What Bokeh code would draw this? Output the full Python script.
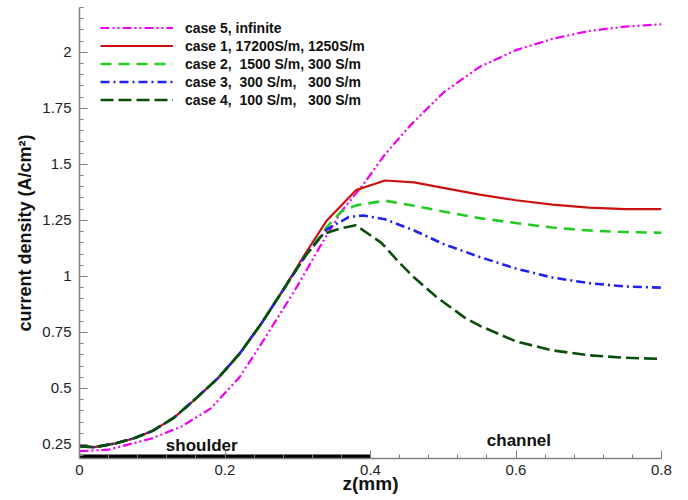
from bokeh.plotting import figure
from bokeh.models import (Range1d, FixedTicker, CustomJSTickFormatter, Legend, LegendItem)
from bokeh.core.properties import value
from bokeh.embed import file_html
from bokeh.resources import INLINE

# ---- data ----
x_case5 = [0.0, 0.04, 0.10, 0.14, 0.18, 0.22, 0.25, 0.28, 0.30, 0.33, 0.36, 0.39, 0.42, 0.455, 0.50, 0.55, 0.60, 0.65, 0.70, 0.75, 0.80]
y_case5 = [0.22, 0.227, 0.278, 0.33, 0.41, 0.55, 0.70, 0.855, 0.96, 1.13, 1.29, 1.41, 1.545, 1.675, 1.82, 1.935, 2.01, 2.06, 2.095, 2.115, 2.125]

x_case1 = [0.0, 0.02, 0.05, 0.075, 0.10, 0.13, 0.16, 0.19, 0.22, 0.25, 0.28, 0.31, 0.34, 0.38, 0.42, 0.46, 0.50, 0.55, 0.60, 0.65, 0.70, 0.75, 0.80]
y_case1 = [0.242, 0.238, 0.255, 0.278, 0.31, 0.37, 0.455, 0.545, 0.655, 0.79, 0.94, 1.10, 1.25, 1.385, 1.428, 1.42, 1.395, 1.365, 1.34, 1.32, 1.307, 1.30, 1.30]

x_case2 = [0.0, 0.02, 0.05, 0.075, 0.10, 0.13, 0.16, 0.19, 0.22, 0.25, 0.28, 0.31, 0.34, 0.36, 0.38, 0.42, 0.46, 0.50, 0.55, 0.60, 0.65, 0.70, 0.75, 0.80]
y_case2 = [0.242, 0.238, 0.255, 0.278, 0.31, 0.37, 0.455, 0.545, 0.655, 0.79, 0.94, 1.09, 1.22, 1.29, 1.317, 1.338, 1.315, 1.29, 1.26, 1.238, 1.218, 1.205, 1.198, 1.195]

x_case3 = [0.0, 0.02, 0.05, 0.075, 0.10, 0.13, 0.16, 0.19, 0.22, 0.25, 0.28, 0.31, 0.34, 0.37, 0.39, 0.42, 0.46, 0.50, 0.55, 0.60, 0.65, 0.70, 0.75, 0.80]
y_case3 = [0.242, 0.238, 0.255, 0.278, 0.31, 0.37, 0.455, 0.545, 0.655, 0.79, 0.94, 1.09, 1.21, 1.265, 1.272, 1.255, 1.205, 1.145, 1.087, 1.035, 0.995, 0.97, 0.955, 0.95]

x_case4 = [0.0, 0.02, 0.05, 0.075, 0.10, 0.13, 0.16, 0.19, 0.22, 0.25, 0.28, 0.31, 0.335, 0.36, 0.38, 0.415, 0.44, 0.46, 0.49, 0.53, 0.55, 0.60, 0.65, 0.70, 0.75, 0.80]
y_case4 = [0.242, 0.238, 0.255, 0.278, 0.31, 0.37, 0.455, 0.545, 0.655, 0.79, 0.94, 1.09, 1.19, 1.215, 1.228, 1.15, 1.06, 0.995, 0.91, 0.815, 0.78, 0.71, 0.67, 0.648, 0.637, 0.632]

labels = ["case 5, infinite",
          "case 1, 17200S/m, 1250S/m",
          "case 2,  1500 S/m, 300 S/m",
          "case 3,  300 S/m,   300 S/m",
          "case 4,  100 S/m,   300 S/m"]

x_ticks = [0.0, 0.2, 0.4, 0.6, 0.8]
y_ticks = [0.25, 0.5, 0.75, 1.0, 1.25, 1.5, 1.75, 2.0]
x_minor = [0.04, 0.08, 0.12, 0.16, 0.24, 0.28, 0.32, 0.36, 0.44, 0.48, 0.52, 0.56, 0.64, 0.68, 0.72, 0.76]
y_minor = [0.2, 0.3, 0.35, 0.4, 0.45, 0.55, 0.6, 0.65, 0.7, 0.8, 0.85, 0.9, 0.95, 1.05, 1.1, 1.15, 1.2,
           1.3, 1.35, 1.4, 1.45, 1.55, 1.6, 1.65, 1.7, 1.8, 1.85, 1.9, 1.95, 2.05, 2.1, 2.15, 2.2]

shoulder_x = [0.0, 0.4]
region_labels = ["shoulder", "channel"]
region_x = [0.168, 0.604]
region_y = [0.245, 0.268]

X_START, X_END = 0.0, 0.8
Y_START, Y_END = 0.1875, 2.2

FONT = "Liberation Sans"

p = figure(width=688, height=500, output_backend="svg", toolbar_location=None,
           x_range=Range1d(X_START, X_END), y_range=Range1d(Y_START, Y_END),
           min_border_left=79, min_border_right=27, min_border_top=7, min_border_bottom=42)
p.outline_line_color = None
p.xgrid.visible = False
p.ygrid.visible = False
p.background_fill_color = "white"
p.border_fill_color = "white"

fmt = CustomJSTickFormatter(code="return String(Math.round(tick*1000)/1000);")

for ax, ticks, minor in ((p.xaxis[0], x_ticks, x_minor), (p.yaxis[0], y_ticks, y_minor)):
    ax.ticker = FixedTicker(ticks=ticks, minor_ticks=minor)
    ax.formatter = fmt
    ax.axis_line_color = "#808080"
    ax.axis_line_width = 1.5
    ax.major_tick_line_color = "#808080"
    ax.minor_tick_line_color = "#808080"
    ax.major_tick_in = 8
    ax.major_tick_out = 0
    ax.minor_tick_in = 4
    ax.minor_tick_out = 0
    ax.major_label_text_font = FONT
    ax.major_label_text_font_size = "15px"
    ax.major_label_text_color = "#222222"
    ax.major_label_standoff = 8
    ax.axis_label_text_font = FONT
    ax.axis_label_text_font_style = "bold"
    ax.axis_label_text_color = "#111111"

p.xaxis.major_label_standoff = 6
p.xaxis.axis_label = "z(mm)"
p.xaxis.axis_label_text_font_size = "19px"
p.xaxis.axis_label_standoff = -5
p.yaxis.axis_label = "current density (A/cm²)"
p.yaxis.axis_label_text_font_size = "18px"
p.yaxis.axis_label_standoff = 4

# shoulder bar along bottom
p.line(shoulder_x, [Y_START + 0.007] * 2, line_color="black", line_width=5)

r5 = p.line(x_case5, y_case5, line_color="#f000f0", line_width=2.2, line_dash="9 3 2 3 2 3")
r1 = p.line(x_case1, y_case1, line_color="#cc1111", line_width=2.2)
r2 = p.line(x_case2, y_case2, line_color="#22cc22", line_width=2.6, line_dash="11 7")
r3 = p.line(x_case3, y_case3, line_color="#2222ee", line_width=2.6, line_dash="9 4 2 4")
r4 = p.line(x_case4, y_case4, line_color="#0b4d0b", line_width=2.6, line_dash="13 5")

p.text(x=region_x, y=region_y, text=region_labels, text_font=value(FONT),
       text_font_style="bold", text_font_size="17px", text_align="center",
       text_baseline="alphabetic", text_color="#111111")

legend = Legend(items=[LegendItem(label=lab, renderers=[r]) for lab, r in
                       zip(labels, [r5, r1, r2, r3, r4])],
                location=(21, 350), padding=0, margin=0, spacing=1,
                glyph_width=73, glyph_height=17, label_height=17, label_standoff=12,
                border_line_color=None, background_fill_alpha=0,
                label_text_font=FONT, label_text_font_style="bold",
                label_text_font_size="14px", label_text_color="#111111")
p.add_layout(legend)

open("out.html", "w").write(file_html(p, INLINE))
